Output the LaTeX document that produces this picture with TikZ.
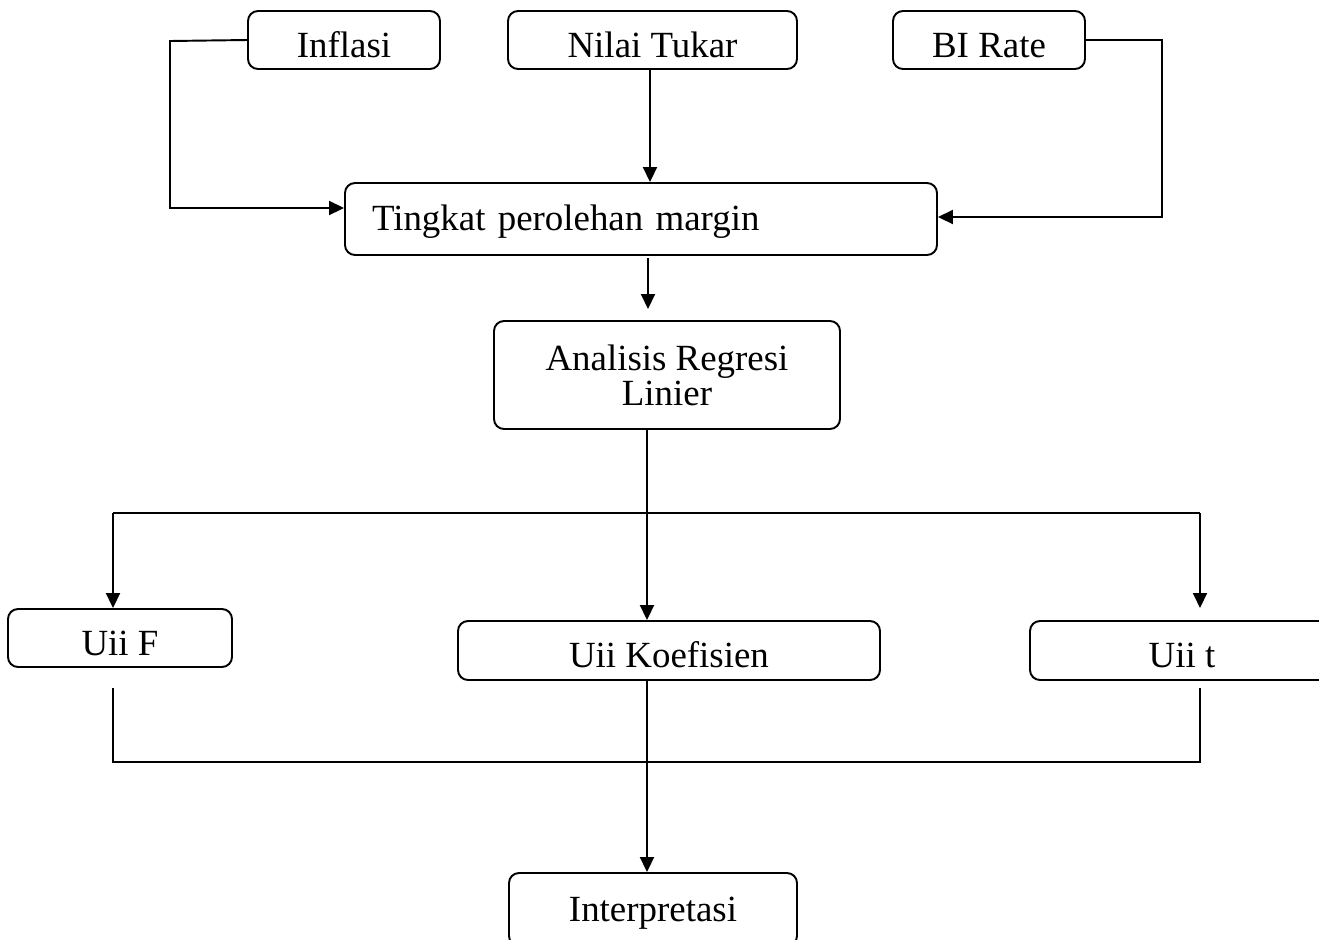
\documentclass[tikz,border=0pt]{standalone}
\usepackage{fontspec}
\setmainfont{Liberation Serif}
\usetikzlibrary{arrows.meta}
\tikzset{
  kotak/.style={draw,line width=1.1pt,rounded corners=0.2cm,inner sep=0pt,font=\fontsize{21}{20}\selectfont,align=center,text height=0.72cm,text depth=0.03cm},
  panah/.style={line width=1.1pt,-{Triangle[length=0.30cm,width=0.28cm]}},
  garis/.style={line width=1.1pt}
}
\begin{document}
\begin{tikzpicture}
            \useasboundingbox (0,0) rectangle (26.38,-18.78);
            % kotak atas
            \node[kotak,minimum width=3.84cm,minimum height=1.16cm] (inflasi) at (6.88,-0.80) {Inflasi};
            \node[kotak,minimum width=5.78cm,minimum height=1.16cm] (nilai) at (13.05,-0.80) {Nilai Tukar};
            \node[kotak,minimum width=3.84cm,minimum height=1.16cm] (birate) at (19.78,-0.80) {BI Rate};
            \node[kotak,minimum height=1.44cm,text width=10.76cm,inner xsep=0.54cm,align=left,text height=0.6cm,text depth=0.15cm] (tingkat) at (12.82,-4.38) {Tingkat perolehan margin};
            \node[kotak,minimum width=6.92cm,minimum height=2.16cm,text height=,text depth=] (analisis) at (13.34,-7.50) {Analisis Regresi\\Linier};
            % kotak uji
            \node[kotak,minimum width=4.48cm,minimum height=1.16cm] (ujif) at (2.40,-12.76) {Uii F};
            \node[kotak,minimum width=8.44cm,minimum height=1.18cm] (ujikoef) at (13.38,-13.01) {Uii Koefisien};
            \node[kotak,minimum width=6.08cm,minimum height=1.18cm] (ujit) at (23.64,-13.01) {Uii t};
            \node[kotak,minimum width=5.76cm,minimum height=1.46cm,text height=0.6cm,text depth=0.11cm] (interp) at (13.06,-18.19) {Interpretasi};
            % titik bantu
            \coordinate (a1) at (3.40,-0.82);
            \coordinate (a2) at (3.40,-4.16);
            \coordinate (b1) at (23.24,-0.80);
            \coordinate (b2) at (23.24,-4.34);
            \coordinate (t1) at (12.96,-5.16);
            \coordinate (t2) at (12.96,-6.18);
            \coordinate (c1) at (12.94,-10.26);
            \coordinate (c2) at (2.26,-10.26);
            \coordinate (c3) at (24.00,-10.26);
            \coordinate (c4) at (24.00,-12.16);
            \coordinate (d1) at (2.26,-13.76);
            \coordinate (d2) at (2.26,-15.24);
            \coordinate (d3) at (24.00,-15.24);
            \coordinate (d4) at (24.00,-13.76);
            % penghubung
            \draw[panah] (inflasi.west) -- (a1) -- (a2) -- (a2 -| tingkat.west);
            \draw[panah] (nilai.south -| 13.00,0) -- (tingkat.north -| 13.00,0);
            \draw[panah] (birate.east) -- (b1) -- (b2) -- (b2 -| tingkat.east);
            \draw[panah] (t1) -- (t2);
            \draw[panah] (analisis.south -| c1) -- (ujikoef.north -| c1);
            \draw[panah] (c2) -- (ujif.north -| c2);
            \draw[panah] (c3) -- (c4);
            \draw[garis] (c2) -- (c3);
            \draw[garis] (d1) -- (d2) -- (d3) -- (d4);
            \draw[panah] (ujikoef.south -| c1) -- (interp.north -| c1);
         \end{tikzpicture}
\end{document}
